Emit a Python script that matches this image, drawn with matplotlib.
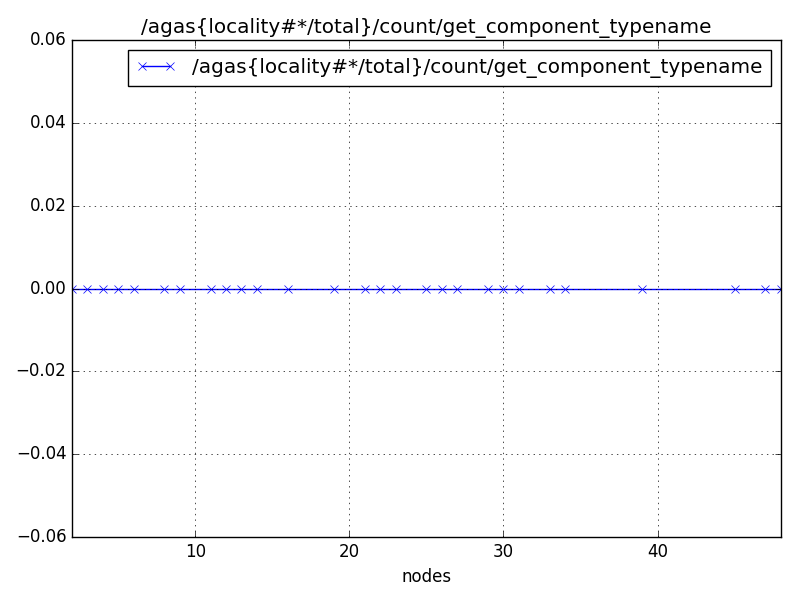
import matplotlib
matplotlib.use('Agg')
import matplotlib.pyplot as plt

plt.style.use('classic')

label = '/agas{locality#*/total}/count/get_component_typename'
nodes = [2, 3, 4, 5, 6, 8, 9, 11, 12, 13, 14, 16, 19, 21, 22, 23, 25, 26,
         27, 29, 30, 31, 33, 34, 39, 45, 47, 48]
counts = [0.0] * len(nodes)

fig = plt.figure(figsize=(8, 6), dpi=100)
ax = fig.add_axes([0.09, 0.105, 0.886, 0.828])
ax.plot(nodes, counts, 'bx-', label=label)
ax.set_xlim(2, 48)
ax.set_ylim(-0.06, 0.06)
ax.set_xticks([10, 20, 30, 40])
ax.grid(True)
ax.set_xlabel('nodes')
ax.set_title(label)
ax.legend(loc='upper right')

fig.savefig('out.png', dpi=100, facecolor='white')
